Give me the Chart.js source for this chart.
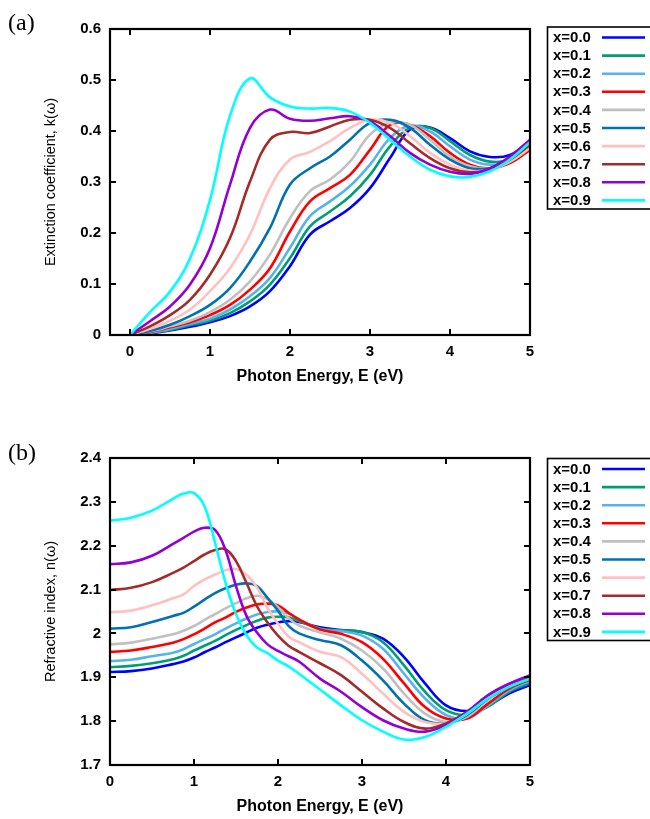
<!DOCTYPE html>
<html><head><meta charset="utf-8">
<script src="https://cdn.jsdelivr.net/npm/chart.js@4/dist/chart.umd.min.js"></script>
<style>
html,body{margin:0;padding:0;background:#fff;width:650px;height:819px;overflow:hidden;}
#wrap{position:relative;width:650px;height:819px;}
canvas{position:absolute;left:0;}
.lbl{position:absolute;font-family:'Liberation Serif','DejaVu Serif',serif;font-size:24px;line-height:1;color:#000;}
</style></head><body>
<div id="wrap">
<canvas id="cA" width="650" height="410" style="top:0;width:650px;height:410px"></canvas>
<canvas id="cB" width="650" height="409" style="top:410px;width:650px;height:409px"></canvas>
<div class="lbl" style="left:8px;top:10px">(a)</div>
<div class="lbl" style="left:8px;top:440px">(b)</div>
</div>
<script>
// ---------- data ----------
const seriesLabels = ['x=0.0','x=0.1','x=0.2','x=0.3','x=0.4','x=0.5','x=0.6','x=0.7','x=0.8','x=0.9'];
const seriesColors = ['#0000ff','#009e73','#56b4e9','#ff0000','#c0c0c0','#0072b2','#ffc0c0','#a52a2a','#9400d3','#00ffff'];

// (a) extinction coefficient k(w)
const energyK = [0,0.25,0.5,0.75,1,1.25,1.5,1.75,2,2.25,2.5,2.75,3,3.25,3.5,3.75,4,4.25,4.5,4.75,5];
const k00 = [0,.003,.009,.016,.025,.037,.056,.086,.135,.197,.223,.249,.288,.347,.403,.407,.386,.360,.349,.353,.380];
const k01 = [0,.004,.010,.019,.028,.043,.066,.099,.151,.213,.242,.272,.314,.370,.406,.406,.380,.353,.340,.344,.370];
const k02 = [0,.005,.012,.022,.032,.050,.076,.112,.171,.233,.262,.292,.334,.386,.410,.399,.370,.344,.334,.340,.367];
const k03 = [0,.006,.015,.025,.039,.059,.089,.131,.203,.262,.288,.314,.363,.412,.412,.390,.357,.334,.327,.337,.363];
const k04 = [0,.007,.017,.028,.045,.069,.105,.158,.229,.282,.305,.340,.393,.416,.412,.383,.350,.331,.327,.340,.367];
const k05 = [0,.008,.020,.037,.059,.092,.144,.210,.295,.327,.350,.383,.416,.422,.406,.373,.344,.327,.327,.340,.367];
const k06 = [0,.012,.028,.050,.086,.131,.197,.288,.344,.359,.380,.406,.422,.416,.390,.357,.334,.322,.324,.340,.367];
const k07 = [0,.017,.039,.069,.118,.190,.301,.383,.398,.396,.409,.422,.422,.406,.376,.347,.327,.319,.324,.344,.373];
const k08 = [0,.027,.056,.099,.170,.295,.406,.442,.424,.420,.425,.429,.419,.390,.357,.334,.320,.316,.327,.350,.383];
const k09 = [0,.045,.085,.150,.265,.430,.503,.466,.448,.444,.445,.438,.416,.383,.350,.324,.311,.310,.321,.344,.378];

// (b) refractive index n(w)
const energyN = [0,0.25,0.5,0.75,0.875,1,1.125,1.25,1.375,1.5,1.625,1.75,1.875,2,2.125,2.25,2.5,2.75,3,3.25,3.5,3.75,4,4.25,4.5,4.75,5];
const n00 = [1.912,1.914,1.920,1.930,1.936,1.945,1.957,1.968,1.980,1.991,2.002,2.013,2.020,2.025,2.028,2.026,2.014,2.008,2.003,1.988,1.946,1.886,1.836,1.823,1.836,1.863,1.882];
const n01 = [1.923,1.926,1.932,1.941,1.949,1.961,1.972,1.983,1.996,2.008,2.019,2.029,2.036,2.038,2.037,2.028,2.011,2.007,2.003,1.980,1.927,1.867,1.825,1.814,1.833,1.867,1.887];
const n02 = [1.937,1.940,1.948,1.956,1.964,1.976,1.987,1.998,2.011,2.023,2.034,2.043,2.049,2.050,2.046,2.032,2.010,2.005,1.995,1.965,1.908,1.852,1.814,1.806,1.836,1.870,1.892];
const n03 = [1.958,1.961,1.969,1.979,1.987,1.998,2.011,2.025,2.036,2.049,2.059,2.066,2.068,2.064,2.047,2.032,2.009,1.999,1.980,1.942,1.886,1.832,1.806,1.806,1.840,1.874,1.895];
const n04 = [1.975,1.979,1.988,1.998,2.006,2.017,2.031,2.044,2.057,2.069,2.080,2.086,2.078,2.060,2.035,2.018,2.002,1.988,1.961,1.920,1.863,1.817,1.798,1.810,1.848,1.878,1.897];
const n05 = [2.011,2.014,2.026,2.040,2.047,2.061,2.077,2.092,2.103,2.111,2.114,2.108,2.081,2.052,2.017,2.000,1.985,1.973,1.938,1.893,1.840,1.802,1.795,1.814,1.852,1.878,1.897];
const n06 = [2.048,2.052,2.064,2.080,2.089,2.108,2.123,2.134,2.144,2.147,2.134,2.105,2.058,2.022,1.993,1.980,1.958,1.946,1.908,1.863,1.821,1.798,1.795,1.817,1.855,1.882,1.899];
const n07 = [2.099,2.104,2.117,2.138,2.150,2.165,2.180,2.190,2.192,2.165,2.115,2.062,2.025,1.995,1.972,1.958,1.932,1.905,1.867,1.829,1.798,1.783,1.795,1.821,1.859,1.885,1.900];
const n08 = [2.158,2.162,2.177,2.204,2.218,2.232,2.241,2.236,2.190,2.108,2.040,2.002,1.975,1.960,1.948,1.936,1.897,1.867,1.832,1.802,1.783,1.776,1.791,1.821,1.859,1.885,1.905];
const n09 = [2.257,2.264,2.280,2.307,2.319,2.320,2.290,2.207,2.116,2.044,1.996,1.968,1.955,1.938,1.925,1.908,1.872,1.836,1.802,1.776,1.758,1.764,1.787,1.817,1.852,1.878,1.897];

const xTicks = [0,1,2,3,4,5];
const xTickLabels = ['0','1','2','3','4','5'];
const kTicks = [0,0.1,0.2,0.3,0.4,0.5,0.6];
const kTickLabels = ['0','0.1','0.2','0.3','0.4','0.5','0.6'];
const nTicks = [1.7,1.8,1.9,2.0,2.1,2.2,2.3,2.4];
const nTickLabels = ['1.7','1.8','1.9','2','2.1','2.2','2.3','2.4'];

const kSeries = [k00,k01,k02,k03,k04,k05,k06,k07,k08,k09];
const nSeries = [n00,n01,n02,n03,n04,n05,n06,n07,n08,n09];

// ---------- drawing ----------
const FONT = "'Liberation Sans', Arial, sans-serif";

const framePlugin = {
  id: 'frame',
  afterDatasetsDraw(chart) {
    const {ctx, chartArea: a, scales: {x, y}} = chart;
    ctx.save();
    ctx.strokeStyle = '#000';
    ctx.lineWidth = 2;
    const L = 6;
    ctx.beginPath();
    xTicks.forEach(v => {
      const p = Math.round(x.getPixelForValue(v));
      ctx.moveTo(p, a.bottom); ctx.lineTo(p, a.bottom - L);
      ctx.moveTo(p, a.top); ctx.lineTo(p, a.top + L);
    });
    y.ticks.forEach(t => {
      const p = Math.round(y.getPixelForValue(t.value));
      ctx.moveTo(a.left, p); ctx.lineTo(a.left + L, p);
      ctx.moveTo(a.right, p); ctx.lineTo(a.right - L, p);
    });
    ctx.stroke();
    ctx.lineWidth = 2.2;
    ctx.strokeRect(a.left, a.top, a.right - a.left, a.bottom - a.top);
    ctx.restore();
  }
};

const legendPlugin = {
  id: 'boxLegend',
  afterDraw(chart, args, opts) {
    const ctx = chart.ctx;
    const top = opts.top;
    const pitch = 18.1;
    ctx.save();
    ctx.strokeStyle = '#000';
    ctx.lineWidth = 1.6;
    ctx.strokeRect(547.5, top, 120, 182);
    ctx.font = 'bold 15px ' + FONT;
    ctx.textBaseline = 'middle';
    ctx.textAlign = 'left';
    seriesLabels.forEach((lab, i) => {
      const ds = chart.data.datasets.find(d => d.label === lab);
      const cy = top + 10.5 + i * pitch;
      ctx.fillStyle = '#000';
      ctx.fillText(ds.label, 553, cy + 0.5);
      ctx.strokeStyle = ds.borderColor;
      ctx.lineWidth = 2.6;
      ctx.beginPath(); ctx.moveTo(602, cy); ctx.lineTo(645, cy); ctx.stroke();
    });
    ctx.restore();
  }
};

function makeChart(id, energy, series, o) {
  // reversed so that x=0.9 is painted last (on top), as in the original
  const datasets = series.map((vals, i) => ({
    label: seriesLabels[i],
    data: energy.map((e, j) => ({x: e, y: vals[j]})),
    borderColor: seriesColors[i],
    backgroundColor: seriesColors[i],
    borderWidth: 2.6,
    pointRadius: 0,
    fill: false,
    tension: 0.4
  })).reverse();
  return new Chart(document.getElementById(id), {
    type: 'line',
    data: { datasets },
    options: {
      responsive: false,
      animation: false,
      devicePixelRatio: 1,
      layout: { padding: { left: 0, top: o.plotTop, right: 120, bottom: 0 } },
      plugins: {
        legend: { display: false },
        tooltip: { enabled: false },
        boxLegend: { top: o.legendTop }
      },
      scales: {
        x: {
          type: 'linear', min: o.xMin, max: 5,
          afterBuildTicks: s => { s.ticks = xTicks.map(v => ({value: v})); },
          afterFit: s => { s.height = o.xHeight; },
          grid: { display: false, drawTicks: false },
          border: { display: false },
          ticks: {
            autoSkip: false, maxRotation: 0, padding: 8, color: '#000',
            font: { family: FONT, weight: 'bold', size: 15 },
            callback: (v, i) => xTickLabels[i]
          },
          title: {
            display: true, text: 'Photon Energy, E (eV)', color: '#000',
            font: { family: FONT, weight: 'bold', size: 16 },
            padding: { top: 0, bottom: o.xTitlePad }
          }
        },
        y: {
          type: 'linear', min: o.yTicks[0], max: o.yTicks[o.yTicks.length - 1],
          afterBuildTicks: s => { s.ticks = o.yTicks.map(v => ({value: v})); },
          afterFit: s => { s.width = 110; },
          grid: { display: false, drawTicks: false },
          border: { display: false },
          ticks: {
            autoSkip: false, padding: 9, color: '#000',
            font: { family: FONT, weight: 'bold', size: 15 },
            callback: (v, i) => o.yLabels[i]
          },
          title: {
            display: true, text: o.yTitle, color: '#000',
            font: { family: FONT, weight: 'normal', size: 14.5 },
            padding: { top: 42, bottom: 0 }
          }
        }
      }
    },
    plugins: [framePlugin, legendPlugin]
  });
}

makeChart('cA', energyK, kSeries, {
  plotTop: 29, xMin: -0.25, xHeight: 75, xTitlePad: 23.4, legendTop: 27,
  yTicks: kTicks, yLabels: kTickLabels, yTitle: 'Extinction coefficient, k(\u03c9)'
});
makeChart('cB', energyN, nSeries, {
  plotTop: 48, xMin: 0, xHeight: 54, xTitlePad: 2.4, legendTop: 48.5,
  yTicks: nTicks, yLabels: nTickLabels, yTitle: 'Refractive index, n(\u03c9)'
});
</script>
</body></html>
